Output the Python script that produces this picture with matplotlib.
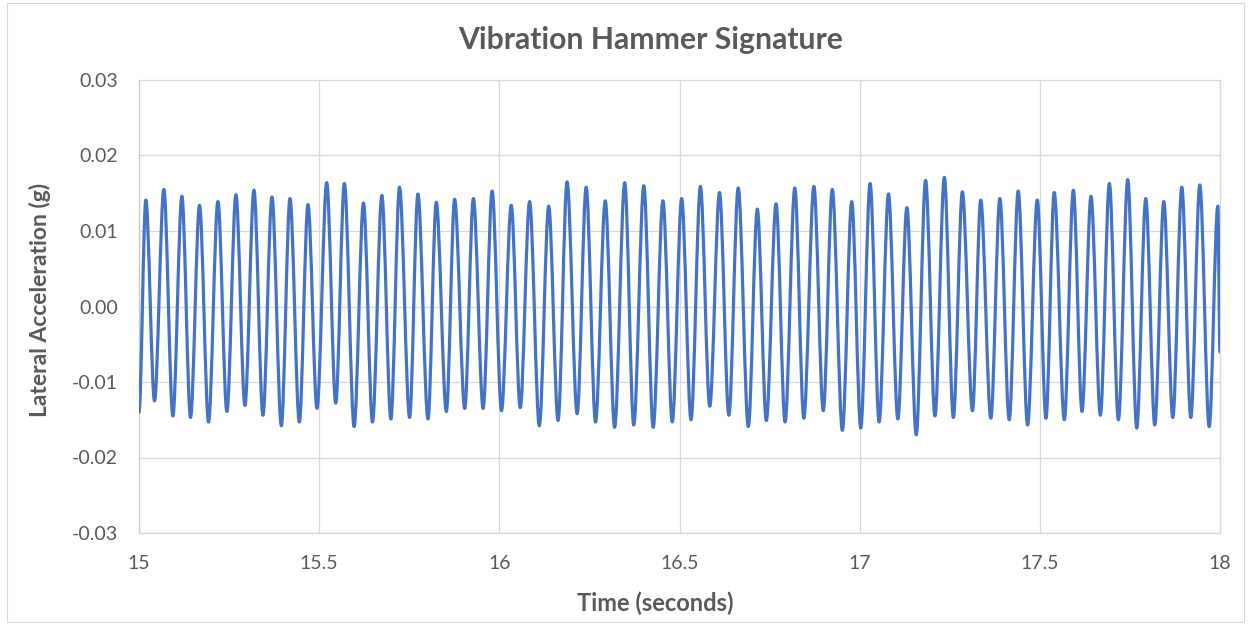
import matplotlib
matplotlib.use("Agg")
import matplotlib.pyplot as plt
from matplotlib.path import Path
from matplotlib.patches import PathPatch, Rectangle
from matplotlib.ticker import FuncFormatter

# ---- data ----
start_point = (15.0, -0.0140)
end_point = (18.0, -0.0060)

peak_times = [15.019, 15.069, 15.119, 15.168, 15.219, 15.269, 15.319, 15.369, 15.419, 15.469,
              15.521, 15.570, 15.623, 15.674, 15.723, 15.774, 15.825, 15.876, 15.928, 15.980,
              16.033, 16.084, 16.137, 16.188, 16.241, 16.294, 16.348, 16.401, 16.454, 16.506,
              16.558, 16.611, 16.663, 16.716, 16.768, 16.820, 16.873, 16.924, 16.978, 17.029,
              17.080, 17.131, 17.183, 17.235, 17.285, 17.336, 17.389, 17.440, 17.493, 17.540,
              17.593, 17.642, 17.693, 17.744, 17.794, 17.844, 17.894, 17.944, 17.994]
peak_values = [0.0141, 0.0155, 0.0146, 0.0134, 0.0139, 0.0148, 0.0154, 0.0145, 0.0143, 0.0135,
               0.0164, 0.0163, 0.0137, 0.0147, 0.0158, 0.0149, 0.0138, 0.0142, 0.0143, 0.0153,
               0.0134, 0.0139, 0.0133, 0.0165, 0.0158, 0.0140, 0.0164, 0.0160, 0.0140, 0.0143,
               0.0159, 0.0151, 0.0157, 0.0129, 0.0136, 0.0157, 0.0159, 0.0155, 0.0139, 0.0163,
               0.0149, 0.0131, 0.0167, 0.0171, 0.0152, 0.0141, 0.0143, 0.0153, 0.0141, 0.0151,
               0.0154, 0.0146, 0.0163, 0.0168, 0.0143, 0.0139, 0.0158, 0.0161, 0.0133]

trough_times = [15.043, 15.094, 15.143, 15.193, 15.244, 15.294, 15.344, 15.395, 15.445, 15.494,
                15.546, 15.597, 15.648, 15.699, 15.751, 15.802, 15.853, 15.904, 15.955, 16.006,
                16.058, 16.111, 16.163, 16.216, 16.267, 16.320, 16.373, 16.427, 16.480, 16.532,
                16.584, 16.637, 16.691, 16.741, 16.793, 16.845, 16.899, 16.952, 17.003, 17.054,
                17.106, 17.157, 17.209, 17.260, 17.313, 17.364, 17.415, 17.466, 17.517, 17.568,
                17.617, 17.668, 17.718, 17.769, 17.819, 17.869, 17.919, 17.970]
trough_values = [-0.0125, -0.0145, -0.0147, -0.0153, -0.0139, -0.0131, -0.0144, -0.0158, -0.0153, -0.0135,
                 -0.0128, -0.0159, -0.0153, -0.0149, -0.0147, -0.0149, -0.0139, -0.0135, -0.0135, -0.0138,
                 -0.0134, -0.0158, -0.0151, -0.0142, -0.0153, -0.0160, -0.0157, -0.0160, -0.0153, -0.0150,
                 -0.0132, -0.0144, -0.0159, -0.0151, -0.0153, -0.0148, -0.0138, -0.0164, -0.0161, -0.0153,
                 -0.0149, -0.0170, -0.0145, -0.0147, -0.0138, -0.0148, -0.0150, -0.0157, -0.0148, -0.0150,
                 -0.0139, -0.0144, -0.0150, -0.0161, -0.0157, -0.0147, -0.0147, -0.0159]

x_ticks = [15, 15.5, 16, 16.5, 17, 17.5, 18]
y_ticks = [-0.03, -0.02, -0.01, 0.00, 0.01, 0.02, 0.03]

title = "Vibration Hammer Signature"
x_label = "Time (seconds)"
y_label = "Lateral Acceleration (g)"

# ---- style ----
TEXT = "#595959"
GRID = "#d9d9d9"
LINE = "#4472C4"
FONT = ["Lato", "DejaVu Sans"]
plt.rcParams["font.family"] = FONT

fig = plt.figure(figsize=(12.51, 6.29), dpi=100)
fig.patch.set_facecolor("white")
fig.add_artist(Rectangle((7 / 1251, 1 - 622 / 629), (1244 - 7) / 1251, (622 - 3) / 629,
                         transform=fig.transFigure, fill=False, edgecolor=GRID, lw=0.8))

ax = fig.add_axes([139 / 1251, 1 - 533 / 629, (1220 - 139) / 1251, (533 - 80) / 629])

# Merge keypoints in time order
pts = [start_point] + list(zip(peak_times, peak_values)) + list(zip(trough_times, trough_values)) + [end_point]
pts.sort(key=lambda p: p[0])

# Smoothed line (like Excel's smoothed line): cubic Bezier segments with flat tangents at the extremes
verts = [pts[0]]
codes = [Path.MOVETO]
for (t0, v0), (t1, v1) in zip(pts[:-1], pts[1:]):
    dt = t1 - t0
    verts += [(t0 + dt / 3.0, v0), (t1 - dt / 3.0, v1), (t1, v1)]
    codes += [Path.CURVE4, Path.CURVE4, Path.CURVE4]
ax.add_patch(PathPatch(Path(verts, codes), fill=False, edgecolor=LINE, lw=2.3,
                       capstyle="round", joinstyle="round", zorder=3))

ax.set_xlim(x_ticks[0], x_ticks[-1])
ax.set_ylim(y_ticks[0], y_ticks[-1])
ax.set_xticks(x_ticks)
ax.set_yticks(y_ticks)
ax.xaxis.set_major_formatter(FuncFormatter(lambda v, p: f"{v:g}"))
ax.yaxis.set_major_formatter(FuncFormatter(lambda v, p: f"{v:.2f}".replace("-0.00", "0.00")))
ax.grid(True, color=GRID, lw=0.9, zorder=0)
ax.set_axisbelow(True)
for s in ax.spines.values():
    s.set_color(GRID)
    s.set_linewidth(0.9)
ax.spines["left"].set_color("#c8c8c8")
ax.tick_params(length=0, labelsize=14, labelcolor=TEXT)
ax.tick_params(axis="y", pad=15)
ax.tick_params(axis="x", pad=16)

fig.text(651 / 1251, 1 - 40 / 629, title, ha="center", va="center", fontsize=21.7,
         fontweight="bold", color=TEXT)
fig.text(655 / 1251, 1 - 603 / 629, x_label, ha="center", va="center", fontsize=17,
         fontweight="bold", color=TEXT)
fig.text(40 / 1251, 1 - 300 / 629, y_label, ha="center", va="center", fontsize=16.5,
         fontweight="bold", color=TEXT, rotation=90)

fig.savefig("out.png", dpi=100, facecolor="white")
